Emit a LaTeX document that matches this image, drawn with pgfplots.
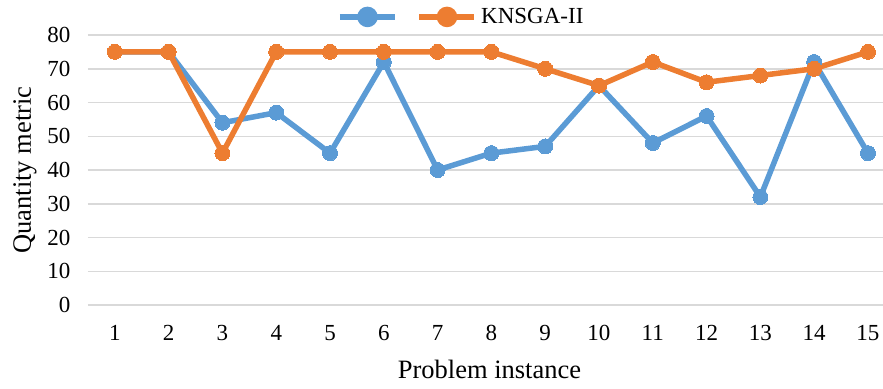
\documentclass[border=0pt]{standalone}
\usepackage{pgfplots}
\pgfplotsset{compat=1.18}
\usepackage{fontspec}
\setmainfont{Liberation Serif}
\definecolor{sblue}{HTML}{5B9BD5}
\definecolor{sorange}{HTML}{ED7D31}
\definecolor{gridgray}{HTML}{D9D9D9}
\begin{document}
\begin{tikzpicture}
\begin{axis}[
  name=ax,
  scale only axis,
  width=795pt, height=270pt,
  xmin=0.5, xmax=15.28,
  ymin=0, ymax=80,
  xtick={1,...,15},
  ytick={0,10,...,80},
  ymajorgrids,
  major grid style={gridgray, line width=1.5pt},
  axis x line*=bottom,
  axis y line*=left,
  x axis line style={gridgray, line width=1.5pt, -},
  y axis line style={draw=none},
  xtick style={draw=none},
  ytick style={draw=none},
  /pgf/number format/assume math mode=true,
  ticklabel style={font=\fontsize{23}{27}\selectfont},
  xticklabel style={anchor=base, yshift=-35pt},
  yticklabel style={xshift=-14pt},
  xlabel={Problem instance},
  ylabel={Quantity metric},
  label style={font=\fontsize{26.5}{30}\selectfont},
  xlabel style={at={(rel axis cs:0.5,0)}, anchor=base, xshift=4pt, yshift=-73pt},
  ylabel style={yshift=4pt},
  legend style={draw=none, fill=none, inner sep=0pt, outer sep=0pt,
    at={(rel axis cs:0.3135,1.067)}, anchor=west, legend columns=2,
    nodes={inner sep=1pt},
    font=\fontsize{23}{27}\selectfont, column sep=3pt,
    /tikz/every even column/.append style={column sep=14pt}},
  legend image code/.code={
    \draw[#1, line width=5.5pt] (0pt,0pt) -- (55pt,0pt);
    \fill[#1] (27.5pt,0pt) circle (7.5pt);
  },
  clip=false,
]
\addplot[sblue, line width=5.5pt, mark=*, mark size=7.5pt, mark options={solid, fill=sblue, draw=sblue, line width=0pt}]
coordinates {(1,75) (2,75) (3,54) (4,57) (5,45) (6,72) (7,40) (8,45) (9,47) (10,65) (11,48) (12,56) (13,32) (14,72) (15,45)};
\addlegendentry{}
\addplot[sorange, line width=5.5pt, mark=*, mark size=7.5pt, mark options={solid, fill=sorange, draw=sorange, line width=0pt}]
coordinates {(1,75) (2,75) (3,45) (4,75) (5,75) (6,75) (7,75) (8,75) (9,70) (10,65) (11,72) (12,66) (13,68) (14,70) (15,75)};
\addlegendentry{KNSGA-II}
\end{axis}
\pgfresetboundingbox
\path[use as bounding box] ([xshift=-88pt,yshift=-83pt]ax.south west) rectangle ([yshift=35pt]ax.north east);
\end{tikzpicture}
\end{document}
